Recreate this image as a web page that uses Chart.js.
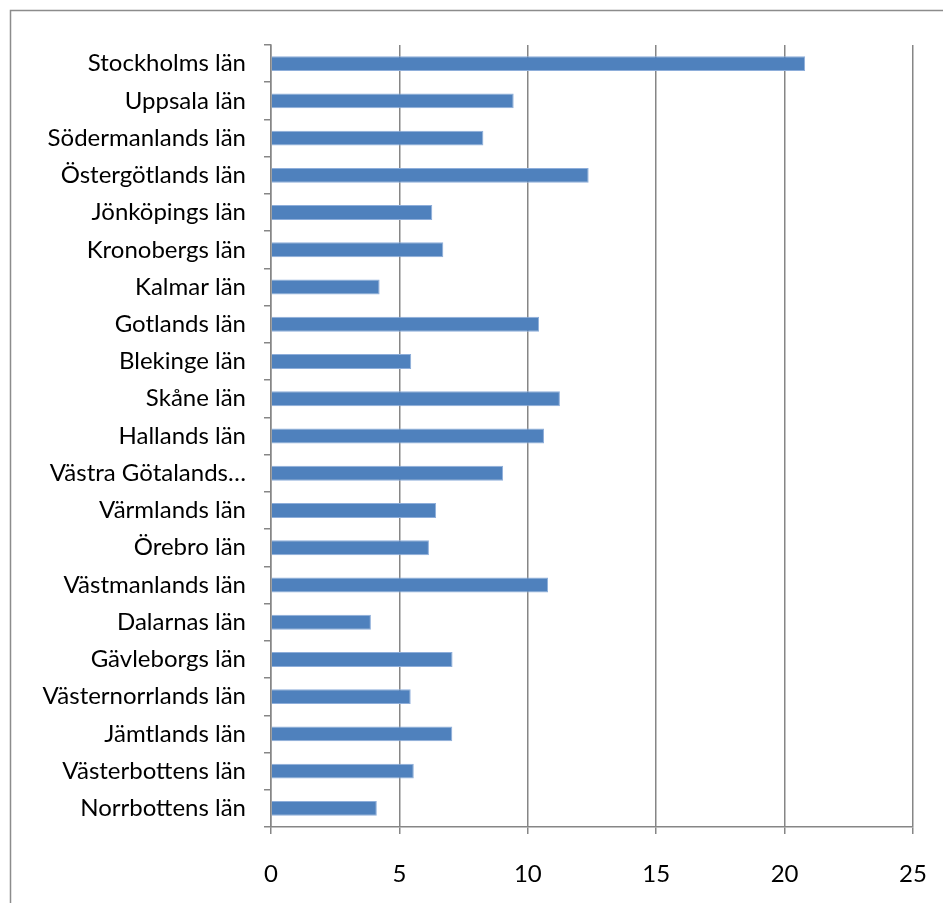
<!DOCTYPE html>
<html>
<head>
<meta charset="utf-8">
<script src="https://cdn.jsdelivr.net/npm/chart.js@4"></script>
<style>
  html, body { margin: 0; padding: 0; background: #fff; overflow: hidden; }
</style>
</head>
<body>
<canvas id="lan" width="943" height="903"></canvas>
<script>
// data
var lanNames = ['Stockholms län', 'Uppsala län', 'Södermanlands län', 'Östergötlands län',
    'Jönköpings län', 'Kronobergs län', 'Kalmar län', 'Gotlands län', 'Blekinge län',
    'Skåne län', 'Hallands län', 'Västra Götalands…', 'Värmlands län', 'Örebro län',
    'Västmanlands län', 'Dalarnas län', 'Gävleborgs län', 'Västernorrlands län',
    'Jämtlands län', 'Västerbottens län', 'Norrbottens län'];
var lanValues = [20.8, 9.45, 8.27, 12.37, 6.28, 6.71, 4.23, 10.44, 5.46, 11.25, 10.63,
    9.04, 6.43, 6.15, 10.79, 3.89, 7.07, 5.44, 7.06, 5.56, 4.12];
var xTicks = [0, 5, 10, 15, 20, 25];

// outer chart frame (only top and left edge visible)
const framePlugin = {
    id: 'frame',
    beforeDraw(chart) {
        const c = chart.ctx;
        c.save();
        c.strokeStyle = '#8c8c8c';
        c.lineWidth = 1.5;
        c.strokeRect(10.5, 10.5, 1000, 1000);
        c.restore();
    }
};

const ctx = document.getElementById('lan').getContext('2d');
const lanChart = new Chart(ctx, {
    type: 'bar',
    data: {
        labels: lanNames,
        datasets: [{
            data: lanValues,
            backgroundColor: '#4F81BD',
            borderColor: '#8EAEDA',
            borderWidth: 1,
            borderSkipped: 'left',
            categoryPercentage: 1.0,
            barPercentage: 0.4
        }]
    },
    options: {
        indexAxis: 'y',
        responsive: false,
        animation: false,
        layout: { padding: { top: 45, right: 30, left: 0, bottom: 0 } },
        plugins: {
            legend: { display: false },
            tooltip: { enabled: false }
        },
        scales: {
            y: {
                grid: {
                    drawOnChartArea: false,
                    drawTicks: true,
                    tickLength: 7,
                    color: '#868686',
                    lineWidth: 1.5
                },
                border: { color: '#868686', width: 1.5 },
                ticks: {
                    color: '#000',
                    padding: 18,
                    autoSkip: false,
                    font: { family: 'Lato', size: 24 }
                },
                afterFit(scale) {
                    scale.width = 271;
                    scale.paddingTop = 0;
                    scale.paddingBottom = 0;
                }
            },
            x: {
                min: 0,
                max: 25,
                afterBuildTicks(scale) {
                    scale.ticks = xTicks.map(function (v) { return { value: v }; });
                },
                grid: {
                    color: '#868686',
                    lineWidth: 1.5,
                    drawTicks: true,
                    tickLength: 7
                },
                border: { color: '#868686', width: 1.5 },
                ticks: {
                    color: '#000',
                    padding: 26,
                    font: { family: 'Lato', size: 24 }
                },
                afterFit(scale) {
                    scale.height = 903 - 827;
                    scale.paddingLeft = 0;
                    scale.paddingRight = 0;
                }
            }
        }
    },
    plugins: [framePlugin]
});
</script>
</body>
</html>
